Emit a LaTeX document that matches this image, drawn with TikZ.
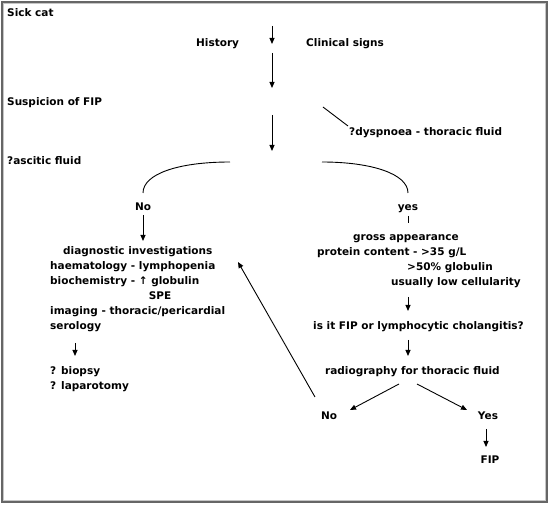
\documentclass[tikz,border=0pt]{standalone}
\usepackage{fontspec}
\setmainfont{DejaVu Sans}
\usetikzlibrary{arrows.meta}
\begin{document}
\begin{tikzpicture}[x=1pt,y=-1pt,
  txt/.style={inner sep=0pt,font=\fontsize{10.5}{12}\bfseries\selectfont},
  lt/.style={txt,anchor=base west},
  ct/.style={txt,anchor=base},
  conn/.style={line width=0.9pt,black},
  arr/.style={conn,-{Triangle[length=6pt,width=5pt]}}]
\useasboundingbox (0,0) rectangle (550,505);
\draw[gray!80!black,line width=1.2pt] (2,2) rectangle (547,502);
\draw[gray!45,line width=1pt] (3.8,3.8) rectangle (545.2,500.2);
% texts
\node[lt] (sick) at (7,17) {Sick cat};
\node[lt] (hist) at (196,47) {History};
\node[lt] (clin) at (306,47) {Clinical signs};
\node[lt] (susp) at (7,106) {Suspicion of FIP};
\node[lt] (dysp) at (349,136) {?dyspnoea - thoracic fluid};
\node[lt] (asc) at (7,165) {?ascitic fluid};
\node[ct] (no1) at (143,211) {No};
\node[ct] (yes1) at (408,211) {yes};
\node[lt] (diag) at (63,255) {diagnostic investigations};
\node[lt] (haem) at (50,270) {haematology - lymphopenia};
\node[lt] (bioc) at (50,285) {biochemistry - ↑ globulin};
\node[ct] (spe) at (160,300) {SPE};
\node[lt] (imag) at (50,315) {imaging - thoracic/pericardial};
\node[lt] (sero) at (50,330) {serology};
\node[lt] (biop) at (50,375) {? biopsy};
\node[lt] (lapa) at (50,390) {? laparotomy};
\node[lt] (gross) at (353,241) {gross appearance};
\node[lt] (prot) at (317,256) {protein content - >35 g/L};
\node[lt] (glob) at (407,271) {>50\% globulin};
\node[lt] (cell) at (391,286) {usually low cellularity};
\node[lt] (isit) at (313,330) {is it FIP or lymphocytic cholangitis?};
\node[lt] (radio) at (325,375) {radiography for thoracic fluid};
\node[ct] (no2) at (329,420) {No};
\node[ct] (yes2) at (488,420) {Yes};
\node[ct] (fip) at (490,464) {FIP};
% connector end points
\coordinate (a1s) at (272,26); \coordinate (a1e) at (272,44);
\coordinate (a2s) at (272,53); \coordinate (a2e) at (272,88);
\coordinate (ds) at (323,107); \coordinate (de) at (348,126);
\coordinate (a3s) at (272,115); \coordinate (a3e) at (272,151);
\coordinate (cls) at (230,162); \coordinate (cle) at (143,193);
\coordinate (crs) at (322,162); \coordinate (cre) at (408,193);
\coordinate (nos) at (143,215); \coordinate (noe) at (143,241);
\coordinate (ys) at (408,216); \coordinate (ye) at (408,223);
\coordinate (sbs) at (75,343); \coordinate (sbe) at (75,356);
\coordinate (r1s) at (408,297); \coordinate (r1e) at (408,311);
\coordinate (r2s) at (408,340); \coordinate (r2e) at (408,356);
\coordinate (dls) at (399,384); \coordinate (dle) at (350,410);
\coordinate (drs) at (417,384); \coordinate (dre) at (467,410);
\coordinate (fs) at (486,429); \coordinate (fe) at (486,447);
\coordinate (bs) at (315,397); \coordinate (be) at (238,262);
% connectors
\draw[arr] (a1s) -- (a1e);
\draw[arr] (a2s) -- (a2e);
\draw[conn] (ds) -- (de);
\draw[arr] (a3s) -- (a3e);
\draw[conn] (cls) .. controls (178,162) and (143,174) .. (cle);
\draw[conn] (crs) .. controls (372,162) and (408,174) .. (cre);
\draw[arr] (nos) -- (noe);
\draw[conn] (ys) -- (ye);
\draw[arr] (sbs) -- (sbe);
\draw[arr] (r1s) -- (r1e);
\draw[arr] (r2s) -- (r2e);
\draw[arr] (dls) -- (dle);
\draw[arr] (drs) -- (dre);
\draw[arr] (fs) -- (fe);
\draw[arr] (bs) -- (be);
\end{tikzpicture}
\end{document}
